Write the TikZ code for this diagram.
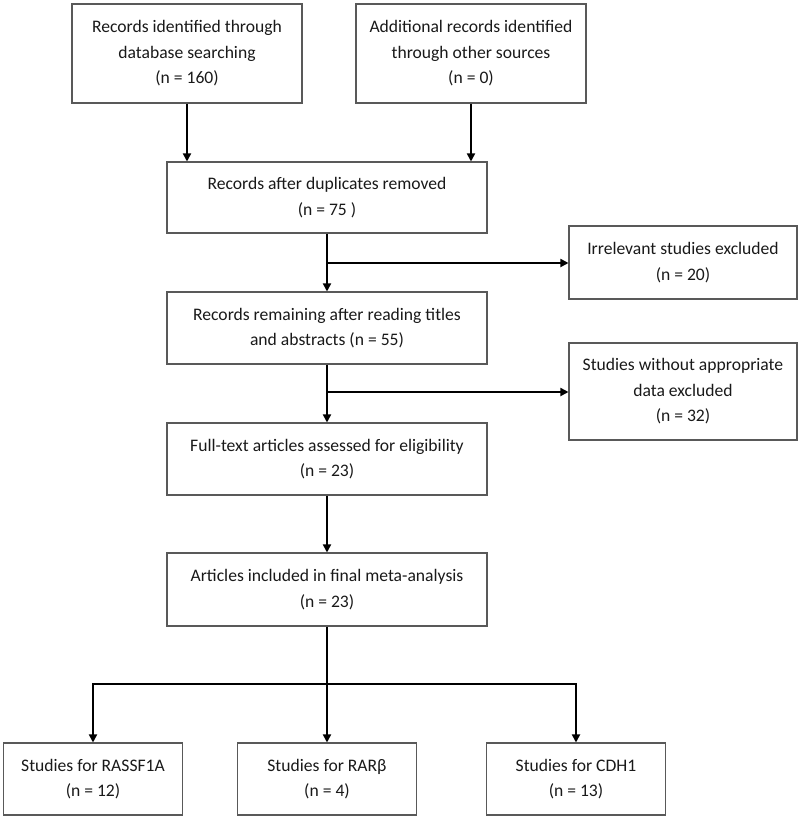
\documentclass[tikz,border=0pt]{standalone}
\usepackage{fontspec}
\setmainfont{Carlito}
\usetikzlibrary{arrows.meta}
\begin{document}
\begin{tikzpicture}[x=0.75pt,y=-0.75pt,
  box/.style={draw=black!65, line width=0.8pt, rectangle, inner sep=0pt, align=center,
    text=black!90, font=\fontsize{13.2}{19.2}\selectfont},
  arr/.style={draw, line width=1.3pt, -{Triangle[length=6pt,width=6pt]}}]
\useasboundingbox (0,0) rectangle (800,819);
\node[box, minimum width=172.5pt, minimum height=74.25pt] (1) at (187,53.5) {Records identified through\\database searching\\(n = 160)};
\node[box, minimum width=172.5pt, minimum height=74.25pt] (2) at (471,53.5) {Additional records identified\\through other sources\\(n = 0)};
\node[box, minimum width=240pt, minimum height=53.25pt] (3) at (327,197.5) {Records after duplicates removed\\(n = 75 )};
\node[box, minimum width=171pt, minimum height=54.75pt] (4) at (683,262.5) {Irrelevant studies excluded\\(n = 20)};
\node[box, minimum width=240pt, minimum height=54pt] (5) at (327,328) {Records remaining after reading titles\\and abstracts (n = 55)};
\node[box, minimum width=171pt, minimum height=72.75pt] (6) at (683,391.5) {Studies without appropriate\\data excluded\\(n = 32)};
\node[box, minimum width=240pt, minimum height=54pt] (7) at (327,459) {Full-text articles assessed for eligibility\\(n = 23)};
\node[box, minimum width=240pt, minimum height=54.75pt] (8) at (327,589.5) {Articles included in final meta-analysis\\(n = 23)};
\node[box, minimum width=134.25pt, minimum height=54pt] (9) at (93,779) {Studies for RASSF1A\\(n = 12)};
\node[box, minimum width=134.25pt, minimum height=54pt] (10) at (327,779) {Studies for RARβ\\(n = 4)};
\node[box, minimum width=134.25pt, minimum height=54pt] (11) at (576,779) {Studies for CDH1\\(n = 13)};
\coordinate (b1) at (327,263);
\coordinate (b2) at (327,392);
\coordinate (b3) at (327,684);

\path[arr] (1.south) -- (1.south |- 3.north);
\path[arr] (2.south) -- (2.south |- 3.north);
\path[arr] (3) -- (5);
\path[arr] (b1) -- (4.west |- b1);
\path[arr] (5) -- (7);
\path[arr] (b2) -- (6.west |- b2);
\path[arr] (7) -- (8);
\path[arr] (8) -- (10);
\path[arr] (b3) -| (9);
\path[arr] (b3) -| (11);
\end{tikzpicture}
\end{document}
